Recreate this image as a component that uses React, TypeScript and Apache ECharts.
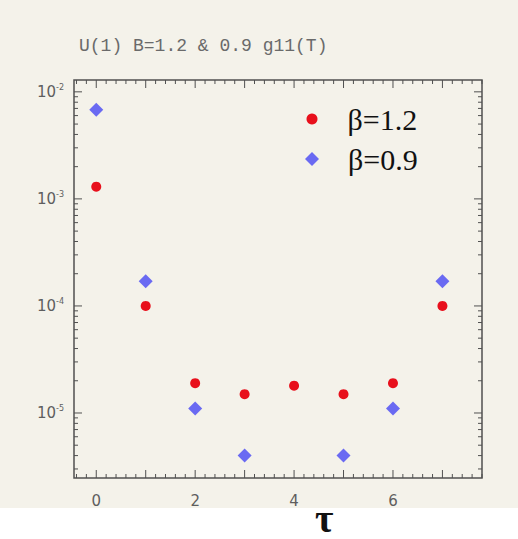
import React, { useEffect, useRef } from "react";
import * as echarts from "echarts";

// ---- data ----
const TAU_12 = [0, 1, 2, 3, 4, 5, 6, 7];
const BETA_12 = [1.3e-3, 1.0e-4, 1.9e-5, 1.5e-5, 1.8e-5, 1.5e-5, 1.9e-5, 1.0e-4];
const TAU_09 = [0, 1, 2, 3, 5, 6, 7];
const BETA_09 = [6.8e-3, 1.7e-4, 1.1e-5, 4.0e-6, 4.0e-6, 1.1e-5, 1.7e-4];
const X_LABELS = [0, 2, 4, 6];
const TITLE = "U(1) B=1.2 & 0.9 g11(T)";
const NAME_12 = "β=1.2";
const NAME_09 = "β=0.9";

// ---- axis ranges ----
const X_MIN = -0.45;
const X_MAX = 7.8;
const Y_MIN = 2.47e-6;
const Y_MAX = 0.0129;

// ---- tick decoration positions (axis ticks on all four sides) ----
const X_TICKS: number[] = [];
for (let i = -2; i <= 39; i++) X_TICKS.push(i / 5);
const Y_TICKS: number[] = [];
for (let e = -6; e <= -2; e++) {
  for (let k = 1; k <= 9; k++) {
    const v = k * Math.pow(10, e);
    if (v >= Y_MIN && v <= Y_MAX) Y_TICKS.push(v);
  }
}

export default function App() {
  const ref = useRef<HTMLDivElement>(null);
  useEffect(() => {
    if (!ref.current) return;
    const chart = echarts.init(ref.current, null, { renderer: "svg" });
    const tickData: number[][] = [];
    X_TICKS.forEach((v) => {
      const major = Math.abs(v - Math.round(v)) < 1e-6 ? 1 : 0;
      tickData.push([v, Y_MIN * 2, 0, major]);
    });
    Y_TICKS.forEach((v) => {
      const m = v / Math.pow(10, Math.floor(Math.log10(v) + 1e-9));
      const major = Math.abs(m - 1) < 1e-6 ? 1 : 0;
      tickData.push([0, v, 1, major]);
    });
    const axisColor = "#505050";
    const labelColor = "#5e5e5e";
    chart.setOption({
      animation: false,
      backgroundColor: "transparent",
      title: {
        text: TITLE,
        left: 74,
        top: 32,
        textStyle: {
          fontFamily: "Liberation Mono",
          fontSize: 18,
          fontWeight: "normal",
          color: "#6a6a6a",
        },
      },
      grid: {
        left: 74,
        right: 36,
        top: 80,
        bottom: 61,
        show: true,
        borderColor: axisColor,
        borderWidth: 1.5,
        backgroundColor: "transparent",
      },
      legend: [
        {
          data: [NAME_12],
          orient: "vertical",
          left: 306.5,
          top: 104,
          padding: 0,
          itemWidth: 11,
          itemHeight: 11,
          textStyle: {
            fontFamily: "Liberation Serif",
            fontSize: 30,
            color: "#111",
            padding: [0, 0, 0, 25],
          },
        },
        {
          data: [NAME_09],
          orient: "vertical",
          left: 305,
          top: 144,
          padding: 0,
          itemWidth: 14,
          itemHeight: 14,
          textStyle: {
            fontFamily: "Liberation Serif",
            fontSize: 30,
            color: "#111",
            padding: [0, 0, 0, 24],
          },
        },
      ],
      xAxis: {
        type: "value",
        min: X_MIN,
        max: X_MAX,
        axisLine: { show: false },
        axisTick: { show: false },
        splitLine: { show: false },
        axisLabel: {
          margin: 15,
          color: labelColor,
          fontFamily: "DejaVu Sans",
          fontSize: 15,
          showMinLabel: false,
          showMaxLabel: false,
          formatter: (v: number) => {
            const r = Math.round(v);
            if (Math.abs(v - r) < 1e-6 && X_LABELS.indexOf(r) >= 0) return String(r);
            return "";
          },
        },
      },
      yAxis: {
        type: "log",
        logBase: 10,
        min: Y_MIN,
        max: Y_MAX,
        axisLine: { show: false },
        axisTick: { show: false },
        splitLine: { show: false },
        axisLabel: {
          margin: 10,
          showMinLabel: false,
          showMaxLabel: false,
          formatter: (v: number) => {
            const l = Math.log10(v);
            const r = Math.round(l);
            if (Math.abs(l - r) > 1e-6) return "";
            return `{a|10}{b|${r}}`;
          },
          rich: {
            a: { fontSize: 15, color: labelColor, fontFamily: "DejaVu Sans" },
            b: {
              fontSize: 8,
              color: labelColor,
              fontFamily: "DejaVu Sans",
              verticalAlign: "top",
              padding: [0, 0, 9, 0],
            },
          },
        },
      },
      graphic: [
        {
          type: "text",
          left: 315,
          top: 498,
          style: {
            text: "τ",
            font: "bold 40px 'Liberation Serif'",
            fill: "#111",
          },
        },
      ],
      series: [
        {
          type: "custom",
          silent: true,
          z: 5,
          clip: false,
          encode: { x: 0, y: 1 },
          data: tickData,
          renderItem: (params: any, api: any) => {
            const cs = params.coordSys;
            const kind = api.value(2);
            const major = api.value(3);
            const p = api.coord([api.value(0), api.value(1)]);
            const style = { stroke: axisColor, lineWidth: 1 };
            if (kind === 0) {
              const x = p[0];
              const L = major ? 8 : 4;
              const yb = cs.y + cs.height;
              return {
                type: "group",
                children: [
                  { type: "line", shape: { x1: x, y1: yb, x2: x, y2: yb - L }, style },
                  { type: "line", shape: { x1: x, y1: cs.y, x2: x, y2: cs.y + L }, style },
                ],
              };
            }
            const y = p[1];
            const L = major ? 8 : 4;
            const xr = cs.x + cs.width;
            return {
              type: "group",
              children: [
                { type: "line", shape: { x1: cs.x, y1: y, x2: cs.x + L, y2: y }, style },
                { type: "line", shape: { x1: xr, y1: y, x2: xr - L, y2: y }, style },
              ],
            };
          },
        },
        {
          name: NAME_12,
          type: "scatter",
          symbol: "circle",
          symbolSize: 10,
          itemStyle: { color: "#e8101c", opacity: 1 },
          z: 10,
          data: TAU_12.map((t, i) => [t, BETA_12[i]]),
        },
        {
          name: NAME_09,
          type: "scatter",
          symbol: "diamond",
          symbolSize: 14,
          itemStyle: { color: "#6a6af2", opacity: 1 },
          z: 10,
          data: TAU_09.map((t, i) => [t, BETA_09[i]]),
        },
      ],
    });
    return () => chart.dispose();
  }, []);
  return (
    <div
      ref={ref}
      style={{
        position: "absolute",
        left: 0,
        top: 0,
        width: 518,
        height: 539,
        background: "linear-gradient(to bottom, #f4f2ea 0px, #f4f2ea 508px, #ffffff 508px)",
      }}
    />
  );
}
